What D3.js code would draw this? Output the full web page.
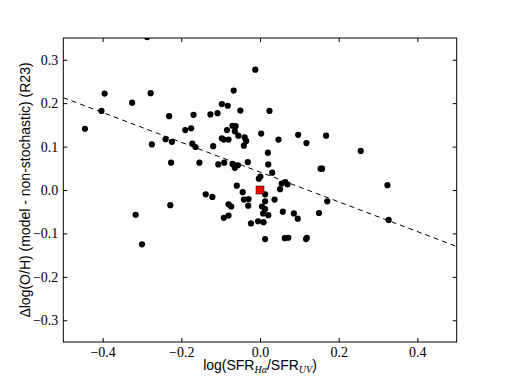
<!DOCTYPE html>
<html>
<head>
<meta charset="utf-8">
<script src="https://cdn.jsdelivr.net/npm/d3@7"></script>
<style>
  html, body { margin: 0; padding: 0; background: #fff; }
  svg { display: block; }
  .ticklab { font-family: "Liberation Serif", "DejaVu Serif", serif; font-size: 14px; }
</style>
</head>
<body>
<svg id="chart" width="507" height="380"></svg>
<script>
// ---- data ----
const xValues = [
  -0.287, -0.395, -0.403, -0.325, -0.278, -0.445, -0.231, -0.275, -0.240, -0.224,
  -0.226, -0.190, -0.175, -0.169, -0.172, -0.164, -0.154, -0.126, -0.108, -0.119,
  -0.097, -0.082, -0.097, -0.092, -0.080, -0.084, -0.067, -0.050, -0.070, -0.062,
  -0.064, -0.055, -0.039, -0.035, -0.041, -0.106, -0.091, -0.070, -0.064, -0.056,
  -0.031, -0.012, -0.059, -0.044, -0.003, 0.001, 0.003, 0.024, 0.047, 0.097,
  0.118, 0.168, 0.256, 0.020, 0.021, 0.031, 0.154, 0.158, 0.055, 0.064,
  0.070, 0.051, 0.324, 0.013, 0.037, 0.013, 0.005, 0.013, 0.008, 0.021,
  -0.005, 0.009, -0.023, 0.058, 0.086, 0.096, 0.150, 0.171, 0.327, 0.013,
  0.063, 0.072, 0.117, 0.119, -0.138, -0.121, -0.228, -0.316, -0.300, -0.080,
  -0.073, -0.041, -0.029, -0.030, -0.092, -0.080
];
const yValues = [
  0.352, 0.222, 0.182, 0.201, 0.223, 0.141, 0.170, 0.105, 0.117, 0.111,
  0.063, 0.138, 0.142, 0.173, 0.107, 0.099, 0.063, 0.174, 0.177, 0.101,
  0.198, 0.194, 0.119, 0.116, 0.116, 0.138, 0.229, 0.183, 0.148, 0.147,
  0.135, 0.125, 0.121, 0.113, 0.102, 0.059, 0.063, 0.060, 0.051, 0.057,
  0.064, 0.277, 0.010, -0.005, 0.026, 0.031, 0.130, 0.182, 0.116, 0.127,
  0.108, 0.125, 0.090, 0.086, 0.059, 0.040, 0.049, 0.049, 0.015, 0.018,
  0.013, 0.002, 0.011, -0.010, -0.022, -0.026, -0.038, -0.044, -0.054, -0.058,
  -0.072, -0.074, -0.077, -0.050, -0.054, -0.066, -0.053, -0.026, -0.069, -0.113,
  -0.111, -0.110, -0.113, -0.110, -0.010, -0.016, -0.035, -0.057, -0.125, -0.033,
  -0.038, -0.022, -0.021, -0.036, -0.064, -0.059
];
const highlightX = [0.0];
const highlightY = [0.0];
const fitLineX = [-0.5, 0.5];
const fitLineY = [0.2126, -0.130];
const xTicks = [-0.4, -0.2, 0.0, 0.2, 0.4];
const yTicks = [-0.3, -0.2, -0.1, 0.0, 0.1, 0.2, 0.3];
const xDomain = [-0.5, 0.5];
const yDomain = [-0.35, 0.35];
const yLabel = "Δlog(O/H) (model - non-stochastic) (R23)";

// ---- layout ----
const L = 63.3, R = 456.7, T = 38, B = 342;
const svg = d3.select("#chart");
const x = d3.scaleLinear().domain(xDomain).range([L, R]);
const y = d3.scaleLinear().domain(yDomain).range([B, T]);

const tickFont = "Liberation Serif, DejaVu Serif, serif";
const labelFont = "Liberation Sans, Arial, sans-serif";

svg.append("defs").append("clipPath").attr("id", "plotclip")
  .append("rect").attr("x", L).attr("y", T).attr("width", R - L).attr("height", B - T);

const plot = svg.append("g").attr("clip-path", "url(#plotclip)");

// dashed fit line
const line = d3.line().x(d => x(d[0])).y(d => y(d[1]));
plot.append("path")
  .datum(d3.zip(fitLineX, fitLineY))
  .attr("d", line)
  .attr("fill", "none")
  .attr("stroke", "#000")
  .attr("stroke-width", 1)
  .attr("stroke-dasharray", "5,4");

// points
plot.append("g").selectAll("circle")
  .data(d3.zip(xValues, yValues))
  .join("circle")
  .attr("cx", d => x(d[0]))
  .attr("cy", d => y(d[1]))
  .attr("r", 3.1)
  .attr("fill", "#000");

// highlighted square
plot.append("g").selectAll("rect")
  .data(d3.zip(highlightX, highlightY))
  .join("rect")
  .attr("x", d => x(d[0]) - 4)
  .attr("y", d => y(d[1]) - 4)
  .attr("width", 8)
  .attr("height", 8)
  .attr("fill", "#ff0000")
  .attr("stroke", "#000")
  .attr("stroke-width", 0.5);

// axes
const fmt = d3.format(".1f");
function styleAxis(g, withText) {
  g.attr("font-family", tickFont).attr("font-size", 14);
  g.select(".domain").remove();
  g.selectAll(".tick line").attr("stroke", "#000").attr("stroke-width", 1);
  g.selectAll(".tick text").attr("fill", "#000").attr("class", "ticklab")
    .attr("font-family", tickFont).attr("font-size", 14);
  if (!withText) g.selectAll(".tick text").remove();
}

svg.append("g").attr("transform", `translate(0,${B})`)
  .call(d3.axisBottom(x).tickValues(xTicks).tickFormat(fmt).tickSize(-4).tickPadding(5))
  .call(g => styleAxis(g, true));
svg.append("g").attr("transform", `translate(0,${T})`)
  .call(d3.axisTop(x).tickValues(xTicks).tickFormat(fmt).tickSize(-4))
  .call(g => styleAxis(g, false));
svg.append("g").attr("transform", `translate(${L},0)`)
  .call(d3.axisLeft(y).tickValues(yTicks).tickFormat(fmt).tickSize(-4).tickPadding(5))
  .call(g => styleAxis(g, true));
svg.append("g").attr("transform", `translate(${R},0)`)
  .call(d3.axisRight(y).tickValues(yTicks).tickFormat(fmt).tickSize(-4))
  .call(g => styleAxis(g, false));

// frame
svg.append("rect")
  .attr("x", L).attr("y", T).attr("width", R - L).attr("height", B - T)
  .attr("fill", "none").attr("stroke", "#000").attr("stroke-width", 1);

// x label with subscripts
const xl = svg.append("text")
  .attr("x", (L + R) / 2)
  .attr("y", 370)
  .attr("text-anchor", "middle")
  .attr("font-family", labelFont)
  .attr("font-size", 14)
  .attr("fill", "#000");
xl.append("tspan").text("log(SFR");
xl.append("tspan").attr("dy", 3).attr("font-family", tickFont).attr("font-style", "italic").attr("font-size", 10).text("Hα");
xl.append("tspan").attr("dy", -3).text("/SFR");
xl.append("tspan").attr("dy", 3).attr("font-family", tickFont).attr("font-style", "italic").attr("font-size", 10).text("UV");
xl.append("tspan").attr("dy", -3).text(")");

// y label
svg.append("text")
  .attr("transform", `translate(30,${(T + B) / 2}) rotate(-90)`)
  .attr("text-anchor", "middle")
  .attr("font-family", labelFont)
  .attr("font-size", 14)
  .attr("fill", "#000")
  .text(yLabel);
</script>
</body>
</html>
